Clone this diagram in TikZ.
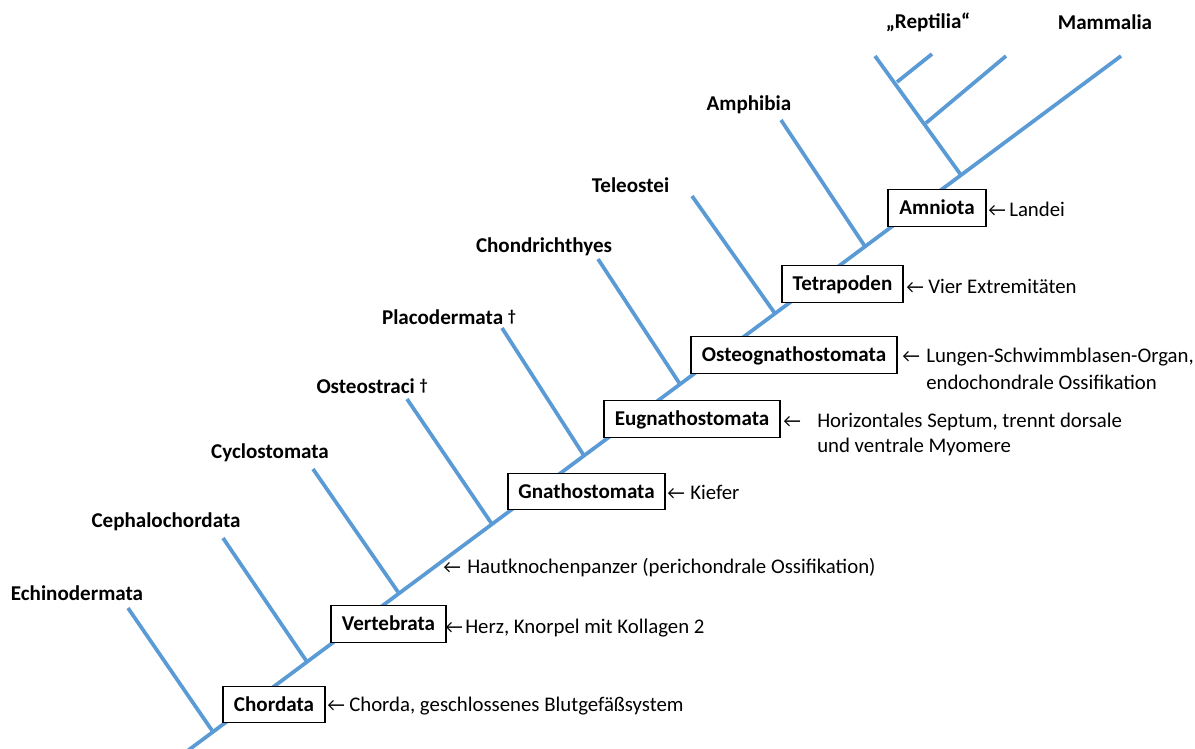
\documentclass[tikz,border=0pt]{standalone}
\usepackage{fontspec}
\setmainfont{Carlito}
\newfontfamily\arrowfont{Carlito}
\definecolor{branchblue}{RGB}{91,155,213}
\newcommand{\extinct}{\raisebox{0.35ex}{\fontsize{12}{12}\selectfont †}}
\begin{document}
\begin{tikzpicture}[x=0.75pt,y=-0.75pt,
  branch/.style={draw=branchblue,line width=2.8pt},
  taxbox/.style={draw=black,fill=white,line width=0.9pt,font=\fontsize{15.8}{18}\selectfont\bfseries,minimum height=36.5*0.75pt,inner sep=0pt,text height=10.1pt,text depth=0pt},
  lab/.style={font=\fontsize{15.8}{18}\selectfont\bfseries,inner sep=0pt,text height=10.1pt,text depth=0pt},
  note/.style={font=\fontsize{15.6}{18}\selectfont,inner sep=0pt,anchor=base west},
  arr/.style={font=\fontsize{14.5}{18}\selectfont\arrowfont,inner sep=0pt,anchor=base west}]
\useasboundingbox (0,0) rectangle (1195,749);
\begin{scope}
\clip (0,0) rectangle (1195,749);
% main line
\coordinate (base) at (180,756.4);
\coordinate (mam) at (1121,56);
\draw[branch] (base) -- (mam);
% joints on main line
\coordinate (j1) at (213,731.9);
\coordinate (j2) at (307,661.9);
\coordinate (j3) at (399,593.4);
\coordinate (j4) at (492,524.2);
\coordinate (j5) at (584,455.7);
\coordinate (j6) at (680,384.2);
\coordinate (j7) at (775,313.5);
\coordinate (j8) at (865,246.5);
\coordinate (j9) at (961,175.1);
% branch tips
\coordinate (t1) at (128,608);
\coordinate (t2) at (223,538);
\coordinate (t3) at (313,469);
\coordinate (t4) at (407,399);
\coordinate (t5) at (502,328);
\coordinate (t6) at (598,259);
\coordinate (t7) at (692,196);
\coordinate (t8) at (781,120);
\coordinate (t9) at (875,56);
\foreach \i in {1,...,9} {\draw[branch] (j\i) -- (t\i);}
% reptile sub-branches
\coordinate (r1) at (897,82);
\coordinate (r1t) at (932,54);
\coordinate (r2) at (926,123);
\coordinate (r2t) at (1006,56);
\draw[branch] (r1) -- (r1t);
\draw[branch] (r2) -- (r2t);
\end{scope}
% boxes
\node[taxbox,minimum width=102*0.75pt] (chordata) at (274,704.5) {Chordata};
\node[taxbox,minimum width=115*0.75pt] (vertebrata) at (388.5,624) {Vertebrata};
\node[taxbox,minimum width=157*0.75pt] (gnatho) at (586.5,491.5) {Gnathostomata};
\node[taxbox,minimum width=176*0.75pt] (eugnatho) at (692,419) {Eugnathostomata};
\node[taxbox,minimum width=206*0.75pt] (osteo) at (794,355) {Osteognathostomata};
\node[taxbox,minimum width=121*0.75pt] (tetra) at (842.5,284) {Tetrapoden};
\node[taxbox,minimum width=98*0.75pt] (amniota) at (937,208) {Amniota};
% taxon labels
\node[lab] (echi) at (77,594) {Echinodermata};
\node[lab] (cepha) at (166,521) {Cephalochordata};
\node[lab] (cyclo) at (270,452) {Cyclostomata};
\node[lab] (osteostr) at (372,387) {Osteostraci \extinct};
\node[lab] (placo) at (449,318) {Placodermata \extinct};
\node[lab] (chondr) at (544,246) {Chondrichthyes};
\node[lab] (teleo) at (630.5,186) {Teleostei};
\node[lab] (amphi) at (749,104) {Amphibia};
\node[lab] (rept) at (928,22) {„Reptilia“};
\node[lab] (mamm) at (1105,23) {Mammalia};
% characters
\node[arr] (a1) at (988,216) {←};
\node[note] (n1) at (1009,216) {Landei};
\node[arr] (a2) at (906,293) {←};
\node[note] (n2) at (928,293) {Vier Extremitäten};
\node[arr] (a3) at (902,362) {←};
\node[note] (n3) at (926,362) {Lungen-Schwimmblasen-Organ,};
\node[note] (n3b) at (926,389) {endochondrale Ossifikation};
\node[arr] (a4) at (783,427) {←};
\node[note] (n4) at (817,427) {Horizontales Septum, trennt dorsale};
\node[note] (n4b) at (817,452) {und ventrale Myomere};
\node[arr] (a5) at (667,499) {←};
\node[note] (n5) at (690,499) {Kiefer};
\node[arr] (a6) at (443,573) {←};
\node[note] (n6) at (467,573) {Hautknochenpanzer (perichondrale Ossifikation)};
\node[arr] (a7) at (445,633) {←};
\node[note] (n7) at (465,633) {Herz, Knorpel mit Kollagen 2};
\node[arr] (a8) at (327,711) {←};
\node[note] (n8) at (349,711) {Chorda, geschlossenes Blutgefäßsystem};
\end{tikzpicture}
\end{document}
